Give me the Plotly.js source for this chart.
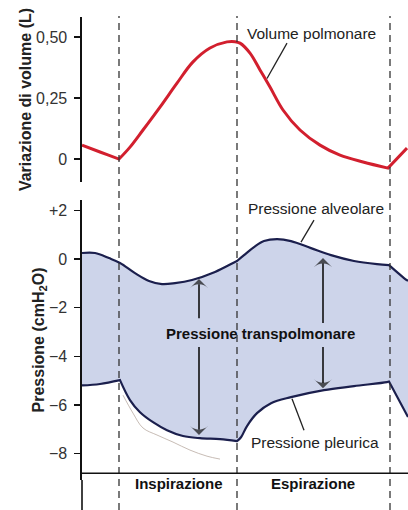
<!DOCTYPE html>
<html>
<head>
<meta charset="utf-8">
<script src="https://cdn.plot.ly/plotly-3.0.1.min.js"></script>
<style>html,body{margin:0;padding:0;background:#fff;}#chart{width:408px;height:510px;}</style>
</head>
<body>
<div id="chart"></div>
<script>
// ---- data (time in arbitrary units) ----
const phaseTimes = [37, 155, 308];            // start inspiration, start expiration, end of cycle
const phaseLabels = ['Inspirazione', 'Espirazione'];
const phaseLabelTimes = [97, 231];

// kink points are listed twice so the smoothed curve keeps its corner there
const volTime = [0, 18, 37, 37, 48, 61, 78, 95, 111, 128, 145, 153, 158, 168, 178, 188, 201, 218, 238, 258, 281, 306, 306, 325];
const volValues = [0.057, 0.029, 0.0, 0.0, 0.049, 0.119, 0.213, 0.311, 0.398, 0.455, 0.480, 0.481, 0.475, 0.434, 0.365, 0.295, 0.201, 0.119, 0.057, 0.016, -0.012, -0.037, -0.037, 0.045];

const alvTime = [0, 13, 27, 38, 53, 67, 80, 93, 110, 133, 153, 155, 155, 162, 172, 182, 195, 209, 229, 249, 272, 295, 307, 307, 322, 326];
const alvValues = [0.25, 0.25, 0.04, -0.16, -0.58, -0.90, -1.03, -0.99, -0.86, -0.53, -0.12, -0.08, -0.08, 0.16, 0.49, 0.74, 0.82, 0.74, 0.45, 0.16, -0.08, -0.21, -0.25, -0.25, -0.78, -0.90];

const pleTime = [0, 18, 38, 38, 48, 58, 71, 85, 101, 118, 138, 155, 155, 159, 165, 175, 189, 209, 242, 272, 305, 307, 307, 326];
const pleValues = [-5.2, -5.14, -4.98, -4.98, -5.80, -6.30, -6.71, -7.04, -7.28, -7.37, -7.41, -7.49, -7.49, -7.33, -6.87, -6.34, -5.93, -5.68, -5.39, -5.23, -5.06, -5.04, -5.04, -6.5];

// faint show-through trace visible in the scan
const ghostTime = [41, 51, 61, 75, 91, 108, 125, 138];
const ghostValues = [-5.60, -6.34, -6.95, -7.24, -7.53, -7.86, -8.11, -8.23];

// transpulmonary arrows: [time, tip, tail]
const arrowTime = [117, 117, 241, 241];
const arrowTip = [-0.82, -7.24, 0.04, -5.31];
const arrowTail = [-2.43, -3.62, -2.63, -3.62];

const volTickVals = [0, 0.25, 0.5];
const volTickText = ['0', '0,25', '0,50'];
const presTickVals = [2, 0, -2, -4, -6, -8];
const presTickText = ['+2', '0', '\u22122', '\u22124', '\u22126', '\u22128'];

// ---- styling ----
const FONT = 'Liberation Sans, Arial, Helvetica, sans-serif';
const TXT = '#222';
const NAVY = '#1b1f4d';
const RED = '#d21f2e';
const FILL = 'rgb(205,212,234)';
const H = 510;
const py = p => 1 - p / H;   // pixel row -> paper fraction

const traces = [
  {x: volTime, y: volValues, xaxis: 'x', yaxis: 'y', mode: 'lines',
   line: {color: RED, width: 3, shape: 'spline', smoothing: 1, simplify: false}, hoverinfo: 'skip'},
  {x: ghostTime, y: ghostValues, xaxis: 'x', yaxis: 'y2', mode: 'lines',
   line: {color: 'rgba(175,160,150,0.7)', width: 1, shape: 'spline'}, hoverinfo: 'skip'},
  {x: pleTime, y: pleValues, xaxis: 'x', yaxis: 'y2', mode: 'lines',
   line: {color: NAVY, width: 2.2, shape: 'spline', smoothing: 1, simplify: false}, hoverinfo: 'skip'},
  {x: alvTime, y: alvValues, xaxis: 'x', yaxis: 'y2', mode: 'lines', fill: 'tonexty', fillcolor: FILL,
   line: {color: NAVY, width: 2.2, shape: 'spline', smoothing: 1, simplify: false}, hoverinfo: 'skip'}
];

arrowTime.forEach((t, i) => traces.push({
  x: [t, t], y: [arrowTail[i], arrowTip[i]], xaxis: 'x', yaxis: 'y2', mode: 'lines+markers',
  line: {color: '#111', width: 1.6},
  marker: {symbol: 'arrow-wide', angleref: 'previous', size: [0, 13], color: '#111',
           line: {color: '#111', width: 0}},
  hoverinfo: 'skip', cliponaxis: false
}));

const shapes = [];
phaseTimes.forEach(t => shapes.push({type: 'line', xref: 'x', yref: 'paper', x0: t, x1: t,
  y0: 0, y1: py(16), line: {color: '#333', width: 1.3, dash: '7px,5px'}}));
// baseline under pressure panel
shapes.push({type: 'line', xref: 'paper', yref: 'y2', x0: 0, x1: 1, y0: -8.81, y1: -8.81,
  line: {color: '#111', width: 1.6}});
// axis extension down to the bottom
shapes.push({type: 'line', xref: 'paper', yref: 'paper', x0: 0, x1: 0, y0: 0, y1: py(480),
  line: {color: '#111', width: 1.6}});
// callout leader lines
shapes.push({type: 'line', xref: 'x', yref: 'y', x0: 205, y0: 0.475, x1: 185, y1: 0.33, line: {color: TXT, width: 1.3}});
shapes.push({type: 'line', xref: 'x', yref: 'y2', x0: 232, y0: 1.60, x1: 219, y1: 0.70, line: {color: TXT, width: 1.3}});
shapes.push({type: 'line', xref: 'x', yref: 'y2', x0: 222, y0: -7.04, x1: 210, y1: -5.75, line: {color: TXT, width: 1.3}});

const annotations = [
  {text: 'Volume polmonare', x: 229, y: 0.516, xref: 'x', yref: 'y', showarrow: false,
   font: {family: FONT, size: 15.5, color: TXT}},
  {text: 'Pressione alveolare', x: 234, y: 2.10, xref: 'x', yref: 'y2', showarrow: false,
   font: {family: FONT, size: 15.5, color: TXT}},
  {text: 'Pressione pleurica', x: 233, y: -7.53, xref: 'x', yref: 'y2', showarrow: false,
   font: {family: FONT, size: 15.5, color: TXT}},
  {text: '<b>Pressione transpolmonare</b>', x: 178, y: -3.05, xref: 'x', yref: 'y2', showarrow: false,
   font: {family: FONT, size: 15, color: '#111'}}
];
phaseLabels.forEach((lab, i) => annotations.push({text: '<b>' + lab + '</b>', x: phaseLabelTimes[i], y: py(494),
  xref: 'x', yref: 'paper', showarrow: false, font: {family: FONT, size: 15, color: '#111'}}));

const axisCommon = {
  showline: true, linecolor: '#111', linewidth: 1.6, ticks: 'outside', ticklen: 6, tickwidth: 1.5,
  tickcolor: '#111', showgrid: false, zeroline: false, fixedrange: true,
  tickfont: {family: FONT, size: 16, color: '#333'}, ticklabelstandoff: 4, anchor: 'x'
};

const layout = {
  width: 408, height: 510,
  margin: {l: 82, r: 0, t: 0, b: 0, pad: 0},
  paper_bgcolor: '#fff', plot_bgcolor: 'rgba(0,0,0,0)',
  showlegend: false,
  font: {family: FONT, color: TXT},
  xaxis: {range: [0, 326], visible: false, fixedrange: true},
  yaxis: Object.assign({}, axisCommon, {
    domain: [py(182), py(17)], range: [-0.094, 0.582],
    tickvals: volTickVals, ticktext: volTickText,
    title: {text: 'Variazione di volume (L)', standoff: 0,
            font: {family: FONT, size: 16, color: '#222', weight: 'bold'}}
  }),
  yaxis2: Object.assign({}, axisCommon, {
    domain: [py(480), py(200)], range: [-9.09, 2.43],
    tickvals: presTickVals, ticktext: presTickText,
    title: {text: 'Pressione (cmH<sub>2</sub>O)', standoff: 0,
            font: {family: FONT, size: 16, color: '#222', weight: 'bold'}}
  }),
  shapes: shapes,
  annotations: annotations
};

Plotly.newPlot('chart', traces, layout, {displayModeBar: false, staticPlot: true});
</script>
</body>
</html>
